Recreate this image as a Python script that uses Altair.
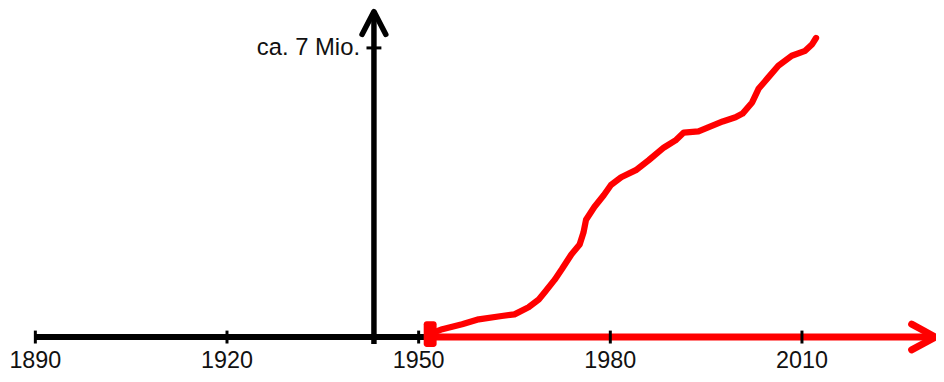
import altair as alt
import pandas as pd

# --- data ---
curve_years = [1951.7, 1953.7, 1956.8, 1959.4, 1963.0, 1965.0, 1967.2, 1968.8, 1969.7,
               1971.3, 1972.4, 1973.9, 1975.2, 1975.8, 1976.2, 1977.5, 1979.0, 1980.1,
               1981.7, 1984.0, 1986.0, 1988.4, 1990.2, 1991.5, 1993.8, 1995.7, 1997.6,
               1999.6, 2000.7, 2002.2, 2003.2, 2004.7, 2006.3, 2008.4, 2010.5, 2011.6, 2012.2]
curve_values = [0.07, 0.19, 0.31, 0.43, 0.51, 0.55, 0.72, 0.91, 1.08,
                1.39, 1.64, 2.00, 2.24, 2.53, 2.84, 3.15, 3.44, 3.68,
                3.87, 4.04, 4.28, 4.59, 4.76, 4.95, 4.98, 5.10, 5.22,
                5.32, 5.41, 5.68, 6.01, 6.28, 6.57, 6.81, 6.93, 7.09, 7.24]

tick_years = [1890, 1920, 1950, 1980, 2010]
tick_labels = ["1890", "1920", "1950", "1980", "2010"]
axis_start_year = 1890
y_axis_year = 1943
red_start_year = 1951.8
axis_end_year = 2030.9
y_axis_bottom = -0.17
y_axis_top = 7.88
y_tick_value = 7
y_tick_label = "ca. 7 Mio."

W, H = 934, 366
xs = alt.Scale(domain=[1885.72, 2030.98], nice=False, zero=False)
ys = alt.Scale(domain=[-0.866, 7.938], nice=False, zero=False)
FONT = "Liberation Sans"

curve_df = pd.DataFrame({"year": curve_years, "value": curve_values})
ticks_df = pd.DataFrame({"year": tick_years, "label": tick_labels, "value": [0] * len(tick_years)})
black_axis_df = pd.DataFrame({"x": [axis_start_year], "x2": [red_start_year], "y": [0]})
red_axis_df = pd.DataFrame({"x": [red_start_year], "x2": [axis_end_year - 0.5], "y": [0]})
yaxis_df = pd.DataFrame({"x": [y_axis_year], "y": [y_axis_bottom], "y2": [y_axis_top]})
ytick_df = pd.DataFrame({"x": [y_axis_year], "y": [y_tick_value], "label": [y_tick_label]})
up_tip_df = pd.DataFrame({"x": [y_axis_year], "y": [y_axis_top]})
right_tip_df = pd.DataFrame({"x": [axis_end_year], "y": [0]})
start_df = pd.DataFrame({"x": [red_start_year], "y": [0.07]})

X = lambda f: alt.X(f"{f}:Q", scale=xs, axis=None)
Y = lambda f: alt.Y(f"{f}:Q", scale=ys, axis=None)

black_axis = alt.Chart(black_axis_df).mark_rule(color="black", strokeWidth=6).encode(
    x=X("x"), x2="x2:Q", y=Y("y"))
y_axis = alt.Chart(yaxis_df).mark_rule(color="black", strokeWidth=5.5).encode(
    x=X("x"), y=Y("y"), y2="y2:Q")
up_arrow = alt.Chart(up_tip_df).mark_point(
    shape="M -0.52 1 L 0 0 L 0.52 1", size=2116, filled=False, opacity=1,
    stroke="black", strokeWidth=5.5, strokeCap="round", strokeJoin="round").encode(
    x=X("x"), y=Y("y"))
red_axis = alt.Chart(red_axis_df).mark_rule(color="#ff0000", strokeWidth=7, strokeCap="round").encode(
    x=X("x"), x2="x2:Q", y=Y("y"))
right_arrow = alt.Chart(right_tip_df).mark_point(
    shape="M -1 -0.54 L 0 0 L -1 0.54", size=2304, filled=False, opacity=1,
    stroke="#ff0000", strokeWidth=7, strokeCap="round", strokeJoin="round").encode(
    x=X("x"), y=Y("y"))
curve = alt.Chart(curve_df).mark_line(
    color="#ff0000", strokeWidth=6.3, strokeCap="round", strokeJoin="round").encode(
    x=X("year"), y=Y("value"), order="year:Q")
start_mark = alt.Chart(start_df).mark_tick(
    color="#ff0000", orient="vertical", size=26, thickness=13, cornerRadius=3, opacity=1).encode(
    x=X("x"), y=Y("y"))
x_ticks = alt.Chart(ticks_df).mark_tick(
    color="black", orient="vertical", size=13, thickness=3, opacity=1).encode(
    x=X("year"), y=Y("value"))
x_labels = alt.Chart(ticks_df).mark_text(
    font=FONT, fontSize=23.5, color="#111111", baseline="alphabetic", align="center", dy=31).encode(
    x=X("year"), y=Y("value"), text="label:N")
y_tick = alt.Chart(ytick_df).mark_tick(
    color="black", orient="horizontal", size=15, thickness=3, opacity=1).encode(
    x=X("x"), y=Y("y"))
y_label = alt.Chart(ytick_df).mark_text(
    font=FONT, fontSize=24, color="#111111", baseline="middle", align="right", dx=-14).encode(
    x=X("x"), y=Y("y"), text="label:N")

chart = alt.layer(
    black_axis, y_axis, up_arrow, red_axis, right_arrow, curve, start_mark,
    x_ticks, x_labels, y_tick, y_label
).properties(
    width=W, height=H, padding=0, autosize=alt.AutoSizeParams(type="none")
).configure_view(stroke=None)

chart.save("out.html", embed_options={"renderer": "svg", "actions": False})
